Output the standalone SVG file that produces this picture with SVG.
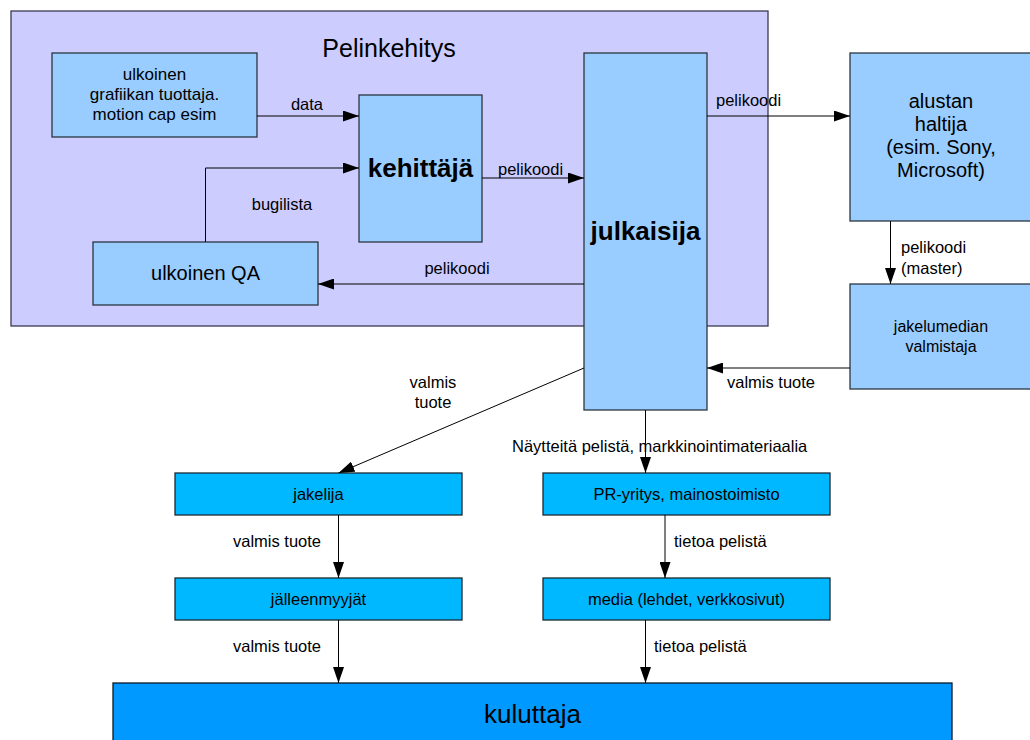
<svg xmlns="http://www.w3.org/2000/svg" width="1030" height="740" viewBox="0 0 1030 740">
<defs>
<marker id="ah" viewBox="0 0 16 11" refX="16" refY="5.5" markerWidth="16" markerHeight="11" markerUnits="userSpaceOnUse" orient="auto">
<path d="M0,0 L16,5.5 L0,11 Z" fill="#000"/>
</marker>
<style>
text{font-family:"Liberation Sans",Arial,sans-serif;fill:#000}
.up{fill:#99ccff;stroke:#2b3640;stroke-width:1.3}
.lo{fill:#00b8ff;stroke:#1a2a33;stroke-width:1.3}
.grp{fill:#ccccff;stroke:#3a3a50;stroke-width:1.3}
.c{fill:none;stroke:#000;stroke-width:1;marker-end:url(#ah)}
.lbl{font-size:16.5px}
.mid{text-anchor:middle}
</style>
</defs>
<rect width="1030" height="740" fill="#fff"/>
<g id="pelinkehitys">
<rect class="grp" x="11" y="11" width="757" height="315"/>
<text class="mid" x="389" y="57" font-size="25">Pelinkehitys</text>
</g>
<g id="grafiikan-tuottaja">
<rect class="up" x="52" y="53" width="205" height="84"/>
<text class="mid" x="154.5" y="80" font-size="17">ulkoinen</text>
<text class="mid" x="154.5" y="100" font-size="17">grafiikan tuottaja.</text>
<text class="mid" x="154.5" y="120" font-size="17">motion cap esim</text>
</g>
<g id="kehittaja">
<rect class="up" x="359" y="95" width="123" height="147"/>
<text class="mid" x="420.5" y="177" font-size="26" font-weight="bold">kehittäjä</text>
</g>
<g id="ulkoinen-qa">
<rect class="up" x="93" y="242" width="225" height="63"/>
<text class="mid" x="205.5" y="280" font-size="20">ulkoinen QA</text>
</g>
<g id="julkaisija">
<rect class="up" x="584" y="53" width="123" height="357"/>
<text class="mid" x="645.5" y="240" font-size="26" font-weight="bold">julkaisija</text>
</g>
<g id="alustan-haltija">
<rect class="up" x="850" y="53" width="185" height="168"/>
<text class="mid" x="941" y="108" font-size="20">alustan</text>
<text class="mid" x="941" y="131" font-size="20">haltija</text>
<text class="mid" x="941" y="154" font-size="20">(esim. Sony,</text>
<text class="mid" x="941" y="177" font-size="20">Microsoft)</text>
</g>
<g id="jakelumedian-valmistaja">
<rect class="up" x="850" y="284" width="185" height="105"/>
<text class="mid" x="941" y="332" font-size="16">jakelumedian</text>
<text class="mid" x="941" y="352" font-size="16">valmistaja</text>
</g>
<g id="jakelija">
<rect class="lo" x="175" y="473" width="287" height="42"/>
<text class="mid" x="318.5" y="500" font-size="16.5">jakelija</text>
</g>
<g id="pr-yritys">
<rect class="lo" x="543" y="473" width="287" height="42"/>
<text class="mid" x="686.5" y="500" font-size="16.5">PR-yritys, mainostoimisto</text>
</g>
<g id="jalleenmyyjat">
<rect class="lo" x="175" y="578" width="287" height="42"/>
<text class="mid" x="318.5" y="605" font-size="16.5">jälleenmyyjät</text>
</g>
<g id="media">
<rect class="lo" x="543" y="578" width="287" height="42"/>
<text class="mid" x="686.5" y="605" font-size="16.5">media (lehdet, verkkosivut)</text>
</g>
<g id="kuluttaja">
<rect x="113" y="683" width="839" height="70" fill="#0099ff" stroke="#0a1a26" stroke-width="1.3"/>
<text class="mid" x="532.5" y="723" font-size="26">kuluttaja</text>
</g>
<g id="connectors">
<path class="c" d="M257,116 H359"/>
<path class="c" d="M205.5,242 V168 H359"/>
<path class="c" d="M482,178 H584"/>
<path class="c" d="M584,284 H318"/>
<path class="c" d="M707,116 H850"/>
<path class="c" d="M890.5,221 V284"/>
<path class="c" d="M850,368 H707"/>
<path class="c" d="M584,368 L338.5,473"/>
<path class="c" d="M645.5,410 V473"/>
<path class="c" d="M338.5,515 V578"/>
<path class="c" d="M665,515 V578"/>
<path class="c" d="M338.5,620 V683"/>
<path class="c" d="M645.5,620 V683"/>
</g>
<g id="labels" class="lbl">
<text class="mid" x="307" y="110">data</text>
<text class="mid" x="282" y="210">bugilista</text>
<text x="498" y="175">pelikoodi</text>
<text class="mid" x="457" y="274">pelikoodi</text>
<text x="716" y="106">pelikoodi</text>
<text x="901" y="253">pelikoodi</text>
<text x="901" y="274">(master)</text>
<text x="727" y="388">valmis tuote</text>
<text class="mid" x="433" y="388">valmis</text>
<text class="mid" x="433" y="408">tuote</text>
<text x="512" y="452">Näytteitä pelistä, markkinointimateriaalia</text>
<text x="233" y="547">valmis tuote</text>
<text x="674" y="547">tietoa pelistä</text>
<text x="233" y="652">valmis tuote</text>
<text x="654" y="652">tietoa pelistä</text>
</g>
</svg>
